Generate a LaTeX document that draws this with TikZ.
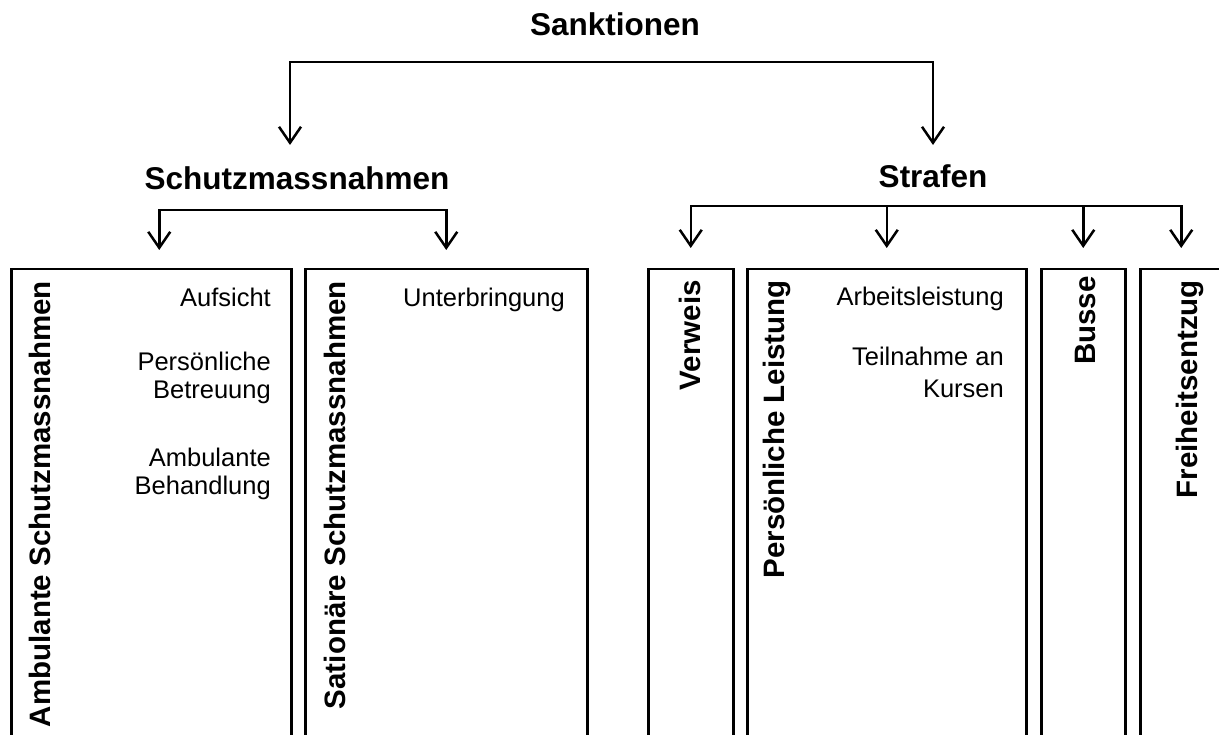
\documentclass[tikz,border=0pt]{standalone}
\usepackage{fontspec}
\setmainfont{Liberation Sans}
\usetikzlibrary{calc,arrows.meta}
\newcommand\fontHead{\fontsize{31.5}{36}\selectfont\bfseries}
\newcommand\fontSide{\fontsize{29.5}{34}\selectfont\bfseries}
\newcommand\fontItem{\fontsize{25.5}{28}\selectfont}

\begin{document}
\begin{tikzpicture}[x=1pt, y=-1pt,
  head/.style={font=\fontHead, inner sep=0pt, anchor=base},
  sidelabel/.style={font=\fontSide, inner sep=0pt, rotate=90, anchor=base east},
  item/.style={font=\fontItem, inner sep=0pt, align=right, anchor=north east},
  box/.style={draw, line width=2.5pt, anchor=north west, minimum height=520pt, inner sep=0pt},
  arr/.style={line width=2.5pt, -{Straight Barb[length=16pt,width=22pt]}}]
  \useasboundingbox (0,0) rectangle (1219,735);
  \clip (0,0) rectangle (1219,735);
  % titles
  \node[head] (sank) at (615,36) {Sanktionen};
  \node[head] (schutz) at (297,190) {Schutzmassnahmen};
  \node[head] (straf) at (933,188) {Strafen};
  % boxes, open at the bottom
  \node[box, minimum width=280pt] (ambBox) at (10,268) {};
  \node[box, minimum width=282pt] (satBox) at (304,268) {};
  \node[box, minimum width=85pt] (verBox) at (647,268) {};
  \node[box, minimum width=279pt] (perBox) at (746,268) {};
  \node[box, minimum width=84pt] (busBox) at (1040,268) {};
  \node[box, minimum width=82pt] (freBox) at (1139,268) {};
  % vertical labels
  \node[sidelabel] (ambLabel) at (50,281) {Ambulante Schutzmassnahmen};
  \node[sidelabel] (satLabel) at (345,281) {Sationäre Schutzmassnahmen};
  \node[sidelabel] (verLabel) at (700,280) {Verweis};
  \node[sidelabel] (perLabel) at (784,280) {Persönliche Leistung};
  \node[sidelabel] (busLabel) at (1095,276) {Busse};
  \node[sidelabel] (freLabel) at (1197,280) {Freiheitsentzug};
  % entries
  \node[item] (aufsicht) at (271,288) {Aufsicht};
  \node[item] (betreuung) at (271,352) {Persönliche\\Betreuung};
  \node[item] (behandlung) at (271,448) {Ambulante\\Behandlung};
  \node[item] (unterbr) at (565,288) {Unterbringung};
  \node[item] (arbeit) at (1004,287) {Arbeitsleistung};
  \node[item] (kurse) at (1004,347) {Teilnahme an\\[4pt]Kursen};
  % branches
  \coordinate (sankBar) at (611,62);
  \coordinate (schutzBar) at (300,210);
  \coordinate (strafBar) at (933,206);
  \draw[arr, shorten >=22pt] (sankBar) -| ([xshift=-7pt]schutz.north);
  \draw[arr, shorten >=20pt] (sankBar) -| (straf.north);
  \draw[arr, shorten >=18pt] (schutzBar) -| ([xshift=8pt]ambBox.north);
  \draw[arr, shorten >=18pt] (schutzBar) -| (satBox.north);
  \draw[arr, shorten >=20pt] (strafBar) -| (verBox.north);
  \draw[arr, shorten >=20pt] (strafBar) -| (perBox.north);
  \draw[arr, shorten >=20pt] (strafBar) -| (busBox.north);
  \draw[arr, shorten >=20pt] (strafBar) -| (freBox.north);
\end{tikzpicture}
\end{document}
